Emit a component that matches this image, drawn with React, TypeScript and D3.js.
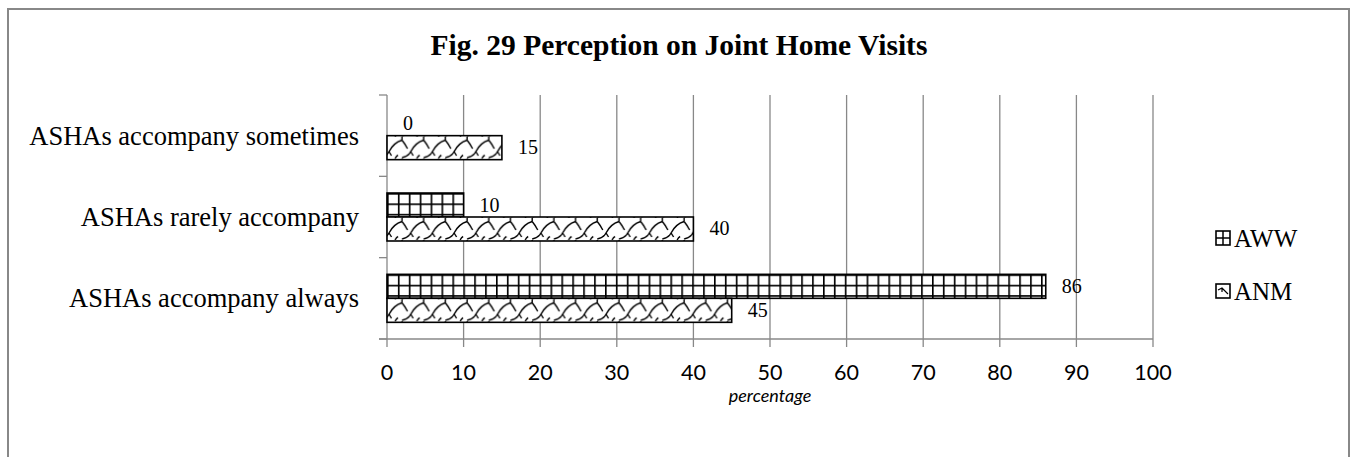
import React from "react";
import * as d3 from "d3";

const categories = ["ASHAs accompany sometimes", "ASHAs rarely accompany", "ASHAs accompany always"];
const seriesNames = ["AWW", "ANM"];
const awwValues = [0, 10, 86];
const anmValues = [15, 40, 45];
const xTickValues = [0, 10, 20, 30, 40, 50, 60, 70, 80, 90, 100];
const title = "Fig. 29 Perception on Joint Home Visits";
const xAxisTitle = "percentage";

const W = 1354;
const H = 457;
const plot = { left: 387, right: 1153, top: 95, bottom: 339 };
const GRID = "#888888";
const SERIF = "'Liberation Serif', 'Times New Roman', serif";
const SANS = "Lato, 'Open Sans', sans-serif";

export default function App() {
  const x = d3.scaleLinear().domain([0, 100]).range([plot.left, plot.right]);
  const y = d3
    .scaleBand<string>()
    .domain(categories)
    .range([plot.top, plot.bottom])
    .paddingInner(0.41)
    .paddingOuter(0.205);
  const ys = d3.scaleBand<string>().domain(seriesNames).range([0, y.bandwidth()]);
  const step = y.step();
  const boundaries = d3.range(categories.length + 1).map((i) => plot.top + i * step);

  const bars: { key: string; series: string; cat: string; value: number; x0: number; y0: number; w: number; h: number }[] = [];
  categories.forEach((c, i) => {
    [awwValues[i], anmValues[i]].forEach((v, si) => {
      const s = seriesNames[si];
      bars.push({
        key: `${s}-${i}`,
        series: s,
        cat: c,
        value: v,
        x0: x(0),
        y0: (y(c) as number) + (ys(s) as number),
        w: x(v) - x(0),
        h: ys.bandwidth(),
      });
    });
  });

  const gridW = 10.9;
  const gridH = 10.4;
  const shW = 21.7;
  const shH = 22;

  const shinglePaths = (dx: number) => [
    `M${dx + 15},0 L${dx + 15},3.5`,
    `M${dx + 15},3.5 C${dx + 10},5 ${dx + 5},9 ${dx + 2},15 C${dx + 0.5},18 ${dx - 2},20 ${dx - 6.7},21`,
    `M${dx + 15},3.5 C${dx + 17},6 ${dx + 19},9 ${dx + 20.5},12`,
    `M${dx + 2},15 L${dx + 4.5},19`,
    `M${dx + 8},22 C${dx + 9},20 ${dx + 10},19 ${dx + 11},18.5`,
  ];

  return (
    <svg
      width={W}
      height={H}
      style={{ position: "absolute", left: 0, top: 0, background: "#fff" }}
      xmlns="http://www.w3.org/2000/svg"
    >
      <defs>
        {bars.map((b) =>
          b.series === "AWW" ? (
            <pattern
              key={`p-${b.key}`}
              id={`pat-${b.key}`}
              patternUnits="userSpaceOnUse"
              x={b.x0}
              y={b.y0}
              width={gridW}
              height={gridH}
            >
              <rect width={gridW} height={gridH} fill="#fff" />
              <line x1={0.8} y1={0} x2={0.8} y2={gridH} stroke="#000" strokeWidth={1.7} />
              <line x1={0} y1={0.8} x2={gridW} y2={0.8} stroke="#000" strokeWidth={1.7} />
            </pattern>
          ) : (
            <pattern
              key={`p-${b.key}`}
              id={`pat-${b.key}`}
              patternUnits="userSpaceOnUse"
              x={b.x0}
              y={b.y0 + 1}
              width={shW}
              height={shH}
            >
              <rect width={shW} height={shH} fill="#fff" />
              {[0, shW].flatMap((dx) =>
                shinglePaths(dx).map((d, k) => (
                  <path key={`${dx}-${k}`} d={d} fill="none" stroke="#000" strokeWidth={1.4} />
                ))
              )}
            </pattern>
          )
        )}
      </defs>

      {/* outer border */}
      <rect x={8} y={9} width={1341} height={470} fill="none" stroke={GRID} strokeWidth={2} />

      {/* title */}
      <text x={679} y={55} textAnchor="middle" fontFamily={SERIF} fontWeight="bold" fontSize={29.5} fill="#000">
        {title}
      </text>

      {/* vertical gridlines and ticks */}
      {xTickValues.map((t) => (
        <line
          key={`g-${t}`}
          x1={x(t)}
          x2={x(t)}
          y1={plot.top}
          y2={plot.bottom + 8}
          stroke={GRID}
          strokeWidth={1.3}
        />
      ))}
      {/* horizontal axis line */}
      <line x1={plot.left - 8} x2={plot.right} y1={plot.bottom} y2={plot.bottom} stroke={GRID} strokeWidth={1.3} />
      {/* category tick marks */}
      {boundaries.map((b, i) => (
        <line key={`ct-${i}`} x1={plot.left - 8} x2={plot.left} y1={b} y2={b} stroke={GRID} strokeWidth={1.3} />
      ))}

      {/* bars */}
      {bars.map((b) =>
        b.w > 0 ? (
          <rect
            key={b.key}
            x={b.x0}
            y={b.y0}
            width={b.w}
            height={b.h}
            fill={`url(#pat-${b.key})`}
            stroke="#000"
            strokeWidth={1.6}
          />
        ) : null
      )}

      {/* data labels */}
      {bars.map((b) => (
        <text
          key={`l-${b.key}`}
          x={x(b.value) + 16}
          y={b.y0 + b.h / 2 + 6.5}
          fontFamily={SERIF}
          fontSize={20}
          fill="#000"
        >
          {b.value}
        </text>
      ))}

      {/* category labels */}
      {categories.map((c) => (
        <text
          key={`c-${c}`}
          x={359}
          y={(y(c) as number) + y.bandwidth() / 2 + 9}
          textAnchor="end"
          fontFamily={SERIF}
          fontSize={26.5}
          fill="#000"
        >
          {c}
        </text>
      ))}

      {/* x tick labels */}
      {xTickValues.map((t) => (
        <text key={`xt-${t}`} x={x(t)} y={380} textAnchor="middle" fontFamily={SANS} fontSize={21.5} fill="#000">
          {t}
        </text>
      ))}
      <text
        x={(plot.left + plot.right) / 2}
        y={402}
        textAnchor="middle"
        fontFamily={SANS}
        fontStyle="italic"
        fontSize={18}
        fill="#000"
      >
        {xAxisTitle}
      </text>

      {/* legend */}
      <g>
        <rect x={1216} y={231} width={14} height={14} fill="#fff" stroke="#000" strokeWidth={1.6} />
        <line x1={1223} x2={1223} y1={231} y2={245} stroke="#000" strokeWidth={1.5} />
        <line x1={1216} x2={1230} y1={238} y2={238} stroke="#000" strokeWidth={1.5} />
        <text x={1234} y={247} fontFamily={SERIF} fontSize={25} fill="#000">
          {seriesNames[0]}
        </text>
        <rect x={1216} y={284} width={14} height={14} fill="#fff" stroke="#000" strokeWidth={1.6} />
        <path d="M1218,290 L1222,288 L1228,294 M1222,288 L1222,292" fill="none" stroke="#000" strokeWidth={1.2} />
        <text x={1234} y={300} fontFamily={SERIF} fontSize={25} fill="#000">
          {seriesNames[1]}
        </text>
      </g>
    </svg>
  );
}
